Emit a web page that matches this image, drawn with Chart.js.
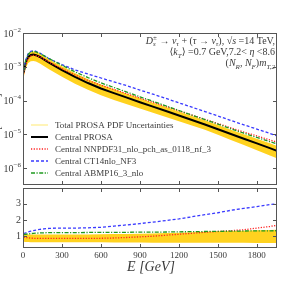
<!DOCTYPE html>
<html>
<head>
<meta charset="utf-8">
<script src="https://cdn.jsdelivr.net/npm/chart.js@4.4.1/dist/chart.umd.min.js"></script>
<style>
  html, body { margin: 0; padding: 0; background: #fff; overflow: hidden; }
  #wrap { position: relative; width: 293px; height: 284px; }
  canvas { position: absolute; left: 0; }
  #topChart { top: 0; }
  #ratioChart { top: 180px; }
</style>
</head>
<body>
<div id="wrap">
  <canvas id="topChart"></canvas>
  <canvas id="ratioChart"></canvas>
</div>
<script>
'use strict';

// ── Data ───────────────────────────────────────
const ENERGY = [5, 20, 40, 60, 80, 100, 130, 160, 200, 250, 300, 400, 500, 600, 700,
  800, 900, 1000, 1100, 1200, 1300, 1400, 1500, 1600, 1700, 1800, 1900, 1950];

// central PROSA flux (top panel)
const PROSA = [6.8e-4, 1.3e-3, 1.95e-3, 2.25e-3, 2.3e-3, 2.2e-3, 1.95e-3, 1.65e-3, 1.32e-3,
  1.02e-3, 8.0e-4, 5.0e-4, 3.3e-4, 2.27e-4, 1.66e-4, 1.22e-4, 8.9e-5, 6.6e-5, 4.9e-5,
  3.6e-5, 2.65e-5, 1.95e-5, 1.42e-5, 1.02e-5, 7.4e-6, 5.4e-6, 3.9e-6, 3.3e-6];

// top panel: other curves measured as multiples of the PROSA curve
const TOP_CT14 = [1.15, 1.2, 1.25, 1.28, 1.3, 1.31, 1.31, 1.31, 1.32, 1.38, 1.45, 1.62, 1.85,
  2.05, 2.15, 2.25, 2.3, 2.34, 2.36, 2.38, 2.4, 2.43, 2.47, 2.52, 2.58, 2.65, 2.73, 2.78];
const TOP_ABMP = [1.1, 1.15, 1.2, 1.22, 1.24, 1.25, 1.27, 1.3, 1.33, 1.36, 1.38, 1.42, 1.45,
  1.47, 1.47, 1.46, 1.45, 1.44, 1.42, 1.41, 1.4, 1.4, 1.41, 1.43, 1.46, 1.5, 1.55, 1.6];
const TOP_NNPDF = [0.92, 0.9, 0.9, 0.92, 0.95, 0.97, 1.0, 1.02, 1.05, 1.08, 1.1, 1.15, 1.2,
  1.25, 1.28, 1.3, 1.32, 1.34, 1.36, 1.38, 1.4, 1.43, 1.47, 1.52, 1.58, 1.66, 1.75, 1.8];
const TOP_BAND_HI = [1.15, 1.18, 1.2, 1.22, 1.23, 1.24, 1.25, 1.26, 1.27, 1.28, 1.29, 1.3, 1.3,
  1.31, 1.31, 1.31, 1.31, 1.31, 1.31, 1.31, 1.32, 1.33, 1.34, 1.35, 1.36, 1.38, 1.4, 1.4];
const TOP_BAND_LO = [0.7, 0.68, 0.66, 0.65, 0.65, 0.65, 0.64, 0.64, 0.64, 0.64, 0.63, 0.63,
  0.63, 0.63, 0.63, 0.64, 0.65, 0.66, 0.67, 0.68, 0.69, 0.7, 0.69, 0.67, 0.65, 0.63, 0.61, 0.6];

// bottom panel: ratios to central PROSA
const R_CT14 = [1.16, 1.2, 1.26, 1.31, 1.35, 1.38, 1.42, 1.45, 1.48, 1.5, 1.5, 1.5, 1.52,
  1.55, 1.62, 1.7, 1.78, 1.87, 1.97, 2.07, 2.2, 2.33, 2.45, 2.6, 2.72, 2.83, 2.95, 3.0];
const R_ABMP = [1.1, 1.12, 1.14, 1.16, 1.18, 1.19, 1.2, 1.21, 1.22, 1.22, 1.22, 1.22, 1.23,
  1.23, 1.24, 1.24, 1.25, 1.25, 1.26, 1.27, 1.28, 1.29, 1.3, 1.31, 1.32, 1.33, 1.33, 1.34];
const R_NNPDF = [0.95, 0.92, 0.9, 0.88, 0.87, 0.87, 0.87, 0.87, 0.87, 0.87, 0.87, 0.87, 0.87,
  0.87, 0.89, 0.92, 0.96, 1.0, 1.06, 1.12, 1.18, 1.24, 1.29, 1.34, 1.4, 1.5, 1.6, 1.67];
const BAND_HI = [1.1, 1.1, 1.1, 1.1, 1.1, 1.1, 1.1, 1.1, 1.1, 1.1, 1.1, 1.11, 1.11, 1.12,
  1.13, 1.14, 1.15, 1.17, 1.19, 1.22, 1.24, 1.27, 1.3, 1.32, 1.34, 1.36, 1.38, 1.4];
const BAND_LO = [0.65, 0.64, 0.64, 0.63, 0.63, 0.63, 0.63, 0.63, 0.62, 0.62, 0.62, 0.62, 0.62,
  0.62, 0.61, 0.61, 0.61, 0.6, 0.6, 0.6, 0.6, 0.6, 0.59, 0.59, 0.59, 0.58, 0.58, 0.58];

const X_TICKS = [0, 300, 600, 900, 1200, 1500, 1800];
const Y_DECADES = [-6, -5, -4, -3, -2];
const RATIO_TICKS = [1, 2, 3];

const LEGEND = [
  'Total PROSA PDF Uncertainties',
  'Central PROSA',
  'Central NNPDF31_nlo_pch_as_0118_nf_3',
  'Central CT14nlo_NF3',
  'Central ABMP16_3_nlo',
];

// ── Styles ─────────────────────────────────────
const SERIF = '"Liberation Serif", "DejaVu Serif", serif';
const INK = '#3a3a3a';
const FRAME = '#555';
const COL = {
  band:  '#ffd21f',
  prosa: '#000000',
  nnpdf: '#ff2020',
  ct14:  '#3a3aff',
  abmp:  '#1f9a1f',
};
// order: larger numbers are painted first (underneath)
const STYLE = [
  { color: '#fff0a0', width: 1.5, dash: [],              order: 10 },
  { color: COL.prosa, width: 2,   dash: [],              order: 4 },
  { color: COL.nnpdf, width: 1.3, dash: [1.2, 1.5],      order: 3 },
  { color: COL.ct14,  width: 1.3, dash: [3, 2],          order: 2 },
  { color: COL.abmp,  width: 1.3, dash: [4, 1.5, 1.2, 1.5], order: 1 },
];

const pts = arr => ENERGY.map((e, i) => ({ x: e, y: arr[i] }));
const rel = r => ENERGY.map((e, i) => ({ x: e, y: PROSA[i] * r[i] }));
const ONES = ENERGY.map(() => 1);

// ── Helpers ────────────────────────────────────
function drawRich(ctx, segs, xRight, y, size) {
  const font = (k, s) => `${k === 'r' ? '' : 'italic '}${s}px ${SERIF}`;
  const small = size * 0.7;
  const parts = segs.map(([t, k]) => {
    let w;
    if (k === 'subsup') {
      ctx.font = font('i', small);
      const [a, b] = t.split('|');
      w = Math.max(ctx.measureText(a).width, ctx.measureText(b).width);
    } else {
      ctx.font = font(k === 'sub' || k === 'sup' ? 'i' : k, k === 'sub' || k === 'sup' ? small : size);
      w = ctx.measureText(t).width;
    }
    return { t, k, w };
  });
  let x = xRight - parts.reduce((s, p) => s + p.w, 0);
  ctx.textAlign = 'left';
  ctx.textBaseline = 'alphabetic';
  parts.forEach(p => {
    if (p.k === 'subsup') {
      const [a, b] = p.t.split('|');
      ctx.font = font('i', small);
      ctx.fillText(a, x, y + size * 0.25);
      ctx.fillText(b, x, y - size * 0.4);
    } else if (p.k === 'sub') {
      ctx.font = font('i', small);
      ctx.fillText(p.t, x, y + size * 0.25);
    } else if (p.k === 'sup') {
      ctx.font = font('i', small);
      ctx.fillText(p.t, x, y - size * 0.4);
    } else {
      ctx.font = font(p.k, size);
      ctx.fillText(p.t, x, y);
    }
    x += p.w;
  });
}

function drawFrame(chart, yTicks) {
  const { ctx, chartArea: a, scales } = chart;
  ctx.save();
  ctx.strokeStyle = FRAME;
  ctx.lineWidth = 1;
  ctx.setLineDash([]);
  ctx.strokeRect(a.left + 0.5, a.top + 0.5, a.right - a.left - 1, a.bottom - a.top - 1);
  ctx.beginPath();
  X_TICKS.forEach(v => {
    const px = Math.round(scales.x.getPixelForValue(v)) + 0.5;
    if (px <= a.left + 1 || px >= a.right - 1) return;
    ctx.moveTo(px, a.bottom); ctx.lineTo(px, a.bottom - 4);
    ctx.moveTo(px, a.top); ctx.lineTo(px, a.top + 4);
  });
  yTicks.forEach(v => {
    const py = Math.round(scales.y.getPixelForValue(v)) + 0.5;
    if (py <= a.top + 1 || py >= a.bottom - 1) return;
    ctx.moveTo(a.left, py); ctx.lineTo(a.left + 4, py);
    ctx.moveTo(a.right, py); ctx.lineTo(a.right - 4, py);
  });
  ctx.stroke();
  ctx.restore();
}

// ── Plugins ────────────────────────────────────
const topDecor = {
  id: 'topDecor',
  afterDraw(chart) {
    const { ctx, chartArea: a, scales } = chart;
    drawFrame(chart, Y_DECADES.map(d => Math.pow(10, d)));

    ctx.save();
    ctx.fillStyle = INK;
    // log tick labels
    Y_DECADES.forEach(d => {
      const py = scales.y.getPixelForValue(Math.pow(10, d));
      ctx.textBaseline = 'middle';
      ctx.textAlign = 'right';
      const sup = '\u2212' + Math.abs(d);
      ctx.font = `7px ${SERIF}`;
      const ws = ctx.measureText(sup).width;
      ctx.fillText(sup, a.left - 2, py - 3);
      ctx.font = `10px ${SERIF}`;
      ctx.fillText('10', a.left - 2 - ws, py + 1);
    });

    // y-axis title, mostly clipped by the left edge
    ctx.save();
    ctx.translate(0, 110);
    ctx.rotate(-Math.PI / 2);
    ctx.font = `italic 11px ${SERIF}`;
    ctx.textAlign = 'center';
    ctx.textBaseline = 'alphabetic';
    ctx.fillText('dN/dE [GeV\u207B\u00B9]  events', 0, 0);
    ctx.restore();

    // annotation
    const xr = a.right - 2;
    drawRich(ctx, [['D', 'i'], ['s|\u00B1', 'subsup'], [' \u2192 ', 'r'], ['v', 'i'], ['\u03C4', 'sub'],
      [' + (', 'r'], ['\u03C4', 'i'], [' \u2192 ', 'r'], ['v', 'i'], ['\u03C4', 'sub'], ['), ', 'r'],
      ['\u221A', 'r'], ['s', 'i'], [' =14 TeV,', 'r']], xr, 43.5, 10);
    drawRich(ctx, [['\u27E8', 'r'], ['k', 'i'], ['T', 'sub'], ['\u27E9 =0.7 GeV,7.2< ', 'r'],
      ['\u03B7', 'i'], [' <8.6', 'r']], xr, 55, 10);
    drawRich(ctx, [['(', 'r'], ['N', 'i'], ['R', 'sub'], [', ', 'r'], ['N', 'i'], ['F', 'sub'],
      [')', 'r'], ['m', 'i'], ['T,2', 'sub']], xr, 66, 10);

    // legend
    const rows = [125, 137, 149, 161, 173];
    LEGEND.forEach((txt, i) => {
      const s = STYLE[i];
      ctx.strokeStyle = s.color;
      ctx.lineWidth = s.width;
      ctx.setLineDash(s.dash);
      ctx.beginPath();
      ctx.moveTo(31, rows[i]);
      ctx.lineTo(48, rows[i]);
      ctx.stroke();
      ctx.setLineDash([]);
      ctx.fillStyle = INK;
      ctx.font = `9px ${SERIF}`;
      ctx.textAlign = 'left';
      ctx.textBaseline = 'middle';
      ctx.fillText(txt, 55, rows[i] + 1);
    });
    ctx.restore();
  },
};

const ratioDecor = {
  id: 'ratioDecor',
  afterDraw(chart) {
    const { ctx, chartArea: a } = chart;
    drawFrame(chart, RATIO_TICKS);
    ctx.save();
    ctx.fillStyle = INK;
    ctx.font = `italic 14px ${SERIF}`;
    ctx.textAlign = 'center';
    ctx.textBaseline = 'middle';
    ctx.fillText('E [GeV]', (a.left + a.right) / 2 + 1, 87);
    ctx.restore();
  },
};

// ── Shared options ─────────────────────────────
function lineSet(data, i, extra) {
  const s = STYLE[i];
  return Object.assign({
    data,
    borderColor: s.color,
    borderWidth: s.width,
    borderDash: s.dash,
    order: s.order,
    pointRadius: 0,
    fill: false,
    tension: 0,
  }, extra || {});
}

function bandSets(lo, hi) {
  return [
    { data: lo, borderWidth: 0, pointRadius: 0, fill: false, borderColor: 'rgba(0,0,0,0)',
      order: 11 },
    { data: hi, borderWidth: 0, pointRadius: 0, fill: '-1', backgroundColor: COL.band,
      borderColor: 'rgba(0,0,0,0)', order: 10 },
  ];
}

const xBase = {
  type: 'linear',
  min: 0,
  max: 1955,
  grid: { display: false, drawTicks: false, tickLength: 0 },
  border: { display: false },
  afterBuildTicks: s => { s.ticks = X_TICKS.map(v => ({ value: v })); },
};

Chart.defaults.animation = false;
Chart.defaults.font.family = SERIF;
Chart.defaults.color = INK;

// ── Top panel ──────────────────────────────────
const topCanvas = document.getElementById('topChart');
topCanvas.style.width = '293px';
topCanvas.style.height = '186px';
new Chart(topCanvas, {
  type: 'line',
  data: {
    datasets: [
      ...bandSets(rel(TOP_BAND_LO), rel(TOP_BAND_HI)),
      lineSet(pts(PROSA), 1),
      lineSet(rel(TOP_NNPDF), 2),
      lineSet(rel(TOP_CT14), 3),
      lineSet(rel(TOP_ABMP), 4),
    ],
  },
  options: {
    responsive: false,
    layout: { padding: { top: 33, right: 16, bottom: 1, left: 0 } },
    plugins: { legend: { display: false }, tooltip: { enabled: false } },
    scales: {
      x: Object.assign({}, xBase, { display: false }),
      y: {
        type: 'logarithmic',
        min: Math.pow(10, -6.5),
        max: 1e-2,
        grid: { display: false, drawTicks: false },
        border: { display: false },
        ticks: { display: false },
        afterFit: s => { s.width = 23; },
      },
    },
  },
  plugins: [topDecor],
});

// ── Ratio panel ────────────────────────────────
const ratioCanvas = document.getElementById('ratioChart');
ratioCanvas.style.width = '293px';
ratioCanvas.style.height = '104px';
new Chart(ratioCanvas, {
  type: 'line',
  data: {
    datasets: [
      ...bandSets(pts(BAND_LO), pts(BAND_HI)),
      lineSet(pts(ONES), 1, { borderWidth: 0 }),
      lineSet(pts(R_NNPDF), 2),
      lineSet(pts(R_CT14), 3),
      lineSet(pts(R_ABMP), 4),
    ],
  },
  options: {
    responsive: false,
    layout: { padding: { top: 5, right: 16, bottom: 0, left: 0 } },
    plugins: { legend: { display: false }, tooltip: { enabled: false } },
    scales: {
      x: Object.assign({}, xBase, {
        ticks: { font: { size: 9 }, padding: 2, maxRotation: 0, autoSkip: false,
          callback: v => String(v) },
        afterFit: s => { s.height = 36; },
      }),
      y: {
        type: 'linear',
        min: 0.27,
        max: 3.98,
        grid: { display: false, drawTicks: false, tickLength: 0 },
        border: { display: false },
        ticks: { font: { size: 10 }, padding: 2 },
        afterBuildTicks: s => { s.ticks = RATIO_TICKS.map(v => ({ value: v })); },
        afterFit: s => { s.width = 23; },
      },
    },
  },
  plugins: [ratioDecor],
});
</script>
</body>
</html>
